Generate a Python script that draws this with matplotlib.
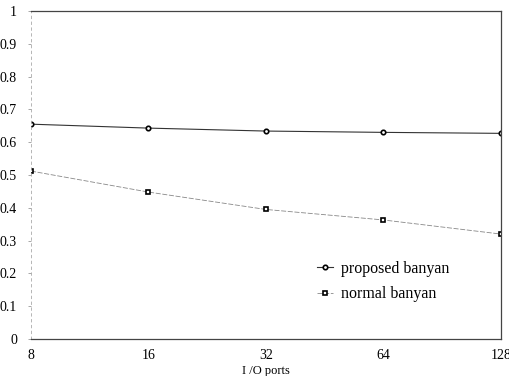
import matplotlib.pyplot as plt
import numpy as np

# data
ports = [8, 16, 32, 64, 128]
proposed_banyan = [0.655, 0.643, 0.634, 0.630, 0.627]
normal_banyan = [0.512, 0.448, 0.395, 0.363, 0.320]
y_ticks = [0, 0.1, 0.2, 0.3, 0.4, 0.5, 0.6, 0.7, 0.8, 0.9, 1]
y_labels = ['0', '0.1', '0.2', '0.3', '0.4', '0.5', '0.6', '0.7', '0.8', '0.9', '1']

plt.rcParams['font.family'] = ['Liberation Serif', 'DejaVu Serif']

fig = plt.figure(figsize=(5.1, 3.76), dpi=100)
ax = fig.add_axes([0.0608, 0.0984, 0.921, 0.8723])

ax.plot(ports, proposed_banyan, color='#333333', lw=0.8, marker='o', ms=3.2,
        mfc='white', mec='black', mew=1.2, label='proposed banyan')
ax.plot(ports, normal_banyan, color='#888888', lw=0.6, ls=(0, (6, 2)), marker='s', ms=3.2,
        mfc='white', mec='black', mew=1.2, label='normal banyan')

ax.set_xscale('log', base=2)
ax.set_xlim(8, 128)
ax.set_ylim(0, 1)
ax.set_xticks(ports)
ax.set_xticklabels([str(p) for p in ports])
ax.minorticks_off()
ax.set_yticks(y_ticks)
ax.set_yticklabels(y_labels)
ax.tick_params(axis='both', labelsize=10, length=2, width=0.6, color='#999999')
ax.tick_params(axis='x', length=0, pad=7)
ax.tick_params(axis='y', pad=8)

for s in ['top', 'right', 'bottom']:
    ax.spines[s].set_color('#444444')
    ax.spines[s].set_linewidth(0.9)
ax.spines['left'].set_color('#aaaaaa')
ax.spines['left'].set_linewidth(0.6)
ax.spines['left'].set_linestyle((0, (3, 4)))

ax.set_xlabel('I /O ports', fontsize=9, labelpad=2)

ax.legend(loc='center left', bbox_to_anchor=(0.578, 0.175), frameon=False,
          fontsize=11.5, handlelength=1.0, handletextpad=0.5, labelspacing=0.6)

plt.savefig('out.png', dpi=100)
